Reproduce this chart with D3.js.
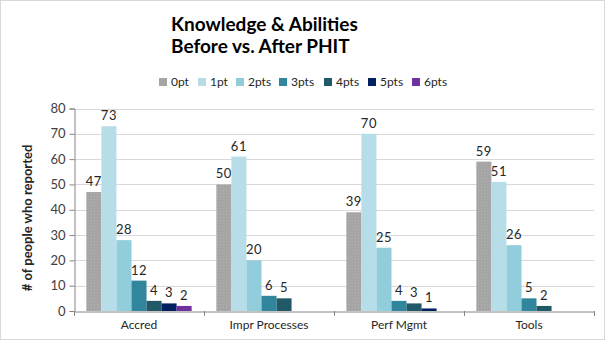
<!DOCTYPE html>
<html><head><meta charset="utf-8">
<script src="https://cdn.jsdelivr.net/npm/d3@7"></script>
<style>body{margin:0;background:#fff}svg{display:block}</style>
</head><body>
<svg id="c" width="605" height="340"></svg>
<script>
const categories = ["Accred", "Impr Processes", "Perf Mgmt", "Tools"];
const seriesNames = ["0pt", "1pt", "2pts", "3pts", "4pts", "5pts", "6pts"];
const s0pt  = [47, 50, 39, 59];
const s1pt  = [73, 61, 70, 51];
const s2pts = [28, 20, 25, 26];
const s3pts = [12, 6, 4, 5];
const s4pts = [4, 5, 3, 2];
const s5pts = [3, null, 1, null];
const s6pts = [2, null, null, null];
const yTicks = [0, 10, 20, 30, 40, 50, 60, 70, 80];
const colors = ["#A5A5A5", "#B7DDE8", "#92CDDC", "#31859C", "#215968", "#002060", "#7030A0"];
const seriesValues = [s0pt, s1pt, s2pts, s3pts, s4pts, s5pts, s6pts];

const svg = d3.select("#c");
svg.append("rect").attr("x",0.5).attr("y",0.5).attr("width",604).attr("height",339)
  .attr("fill","#fff").attr("stroke","#D9D9D9");

const defs = svg.append("defs");
const pat = defs.append("pattern").attr("id","dots").attr("patternUnits","userSpaceOnUse")
  .attr("width",3).attr("height",3);
pat.append("rect").attr("width",3).attr("height",3).attr("fill","#A5A5A5");
pat.append("rect").attr("x",1).attr("y",1).attr("width",1).attr("height",1).attr("fill","#B0B0B0");

const pLeft = 74, pRight = 594, pTop = 108.5, pBottom = 311;
const x0 = d3.scaleBand().domain(categories).range([pLeft, pRight]).paddingInner(0.19).paddingOuter(0.095);
const x1 = d3.scaleBand().domain(seriesNames).range([0, x0.bandwidth()]);
const y = d3.scaleLinear().domain([0, 80]).range([pBottom, pTop]);

// gridlines
svg.append("g").selectAll("line").data(yTicks.slice(1)).join("line")
  .attr("x1", pLeft).attr("x2", pRight).attr("y1", d => Math.round(y(d))+0.5).attr("y2", d => Math.round(y(d))+0.5)
  .attr("stroke", "#D9D9D9").attr("stroke-width", 1);

// y axis
const yAxis = svg.append("g").attr("transform", `translate(${pLeft+0.5},0)`)
  .call(d3.axisLeft(y).tickValues(yTicks).tickSize(5).tickPadding(4));
yAxis.select(".domain").attr("stroke", "#868686");
yAxis.selectAll(".tick line").attr("stroke", "#868686");
yAxis.selectAll("text").attr("font-family", "Lato, sans-serif").attr("font-size", 13).attr("fill", "#404040");

// bars
seriesNames.forEach((s, si) => {
  const vals = seriesValues[si];
  const g = svg.append("g");
  const data = categories.map((c, ci) => ({c, v: vals[ci]})).filter(d => d.v != null);
  g.selectAll("rect").data(data).join("rect")
    .attr("x", d => x0(d.c) + x1(s))
    .attr("y", d => y(d.v))
    .attr("width", x1.bandwidth())
    .attr("height", d => y(0) - y(d.v))
    .attr("fill", si === 0 ? "url(#dots)" : colors[si]);
  g.selectAll("text").data(data).join("text")
    .attr("x", d => x0(d.c) + x1(s) + x1.bandwidth()/2)
    .attr("y", d => y(d.v) - 6)
    .attr("text-anchor", "middle")
    .attr("font-family", "Lato, sans-serif").attr("font-size", 13).attr("letter-spacing", "0.5px")
    .attr("fill", "#262626")
    .text(d => d.v);
});

// x axis
const xAxis = svg.append("g").attr("transform", `translate(0,${pBottom+0.5})`)
  .call(d3.axisBottom(x0).tickSize(0).tickPadding(9));
xAxis.select(".domain").attr("stroke", "#868686");
xAxis.selectAll("text").attr("font-family", "Lato, sans-serif").attr("font-size", 12).attr("fill", "#262626");
const bounds = categories.map(c => x0(c) - x0.step()*x0.paddingInner()/2).concat([pRight]);
svg.append("g").selectAll("line").data(bounds).join("line")
  .attr("x1", d => Math.round(d)+0.5).attr("x2", d => Math.round(d)+0.5)
  .attr("y1", pBottom).attr("y2", pBottom+5).attr("stroke", "#868686");

// y axis title
svg.append("text").attr("transform", `translate(32,218) rotate(-90)`)
  .attr("text-anchor", "middle").attr("font-family", "Lato, sans-serif").attr("font-weight", "bold")
  .attr("font-size", 13).attr("fill", "#262626").text("# of people who reported");

// title
const title = svg.append("text").attr("font-family", "Lato, sans-serif").attr("font-weight", "bold")
  .attr("font-size", 19).attr("fill", "#000");
title.append("tspan").attr("x", 171).attr("y", 31).text("Knowledge & Abilities");
title.append("tspan").attr("x", 171).attr("y", 53).text("Before vs. After PHIT");

// legend
const legX = [159, 198, 236, 279, 324, 368, 412];
const leg = svg.append("g").selectAll("g").data(seriesNames).join("g")
  .attr("transform", (d, i) => `translate(${legX[i]},78)`);
leg.append("rect").attr("width", 8).attr("height", 8).attr("fill", (d, i) => colors[i]);
leg.append("text").attr("x", 12).attr("y", 8).attr("font-family", "Lato, sans-serif")
  .attr("font-size", 12).attr("fill", "#262626").text(d => d);
</script>
</body></html>
